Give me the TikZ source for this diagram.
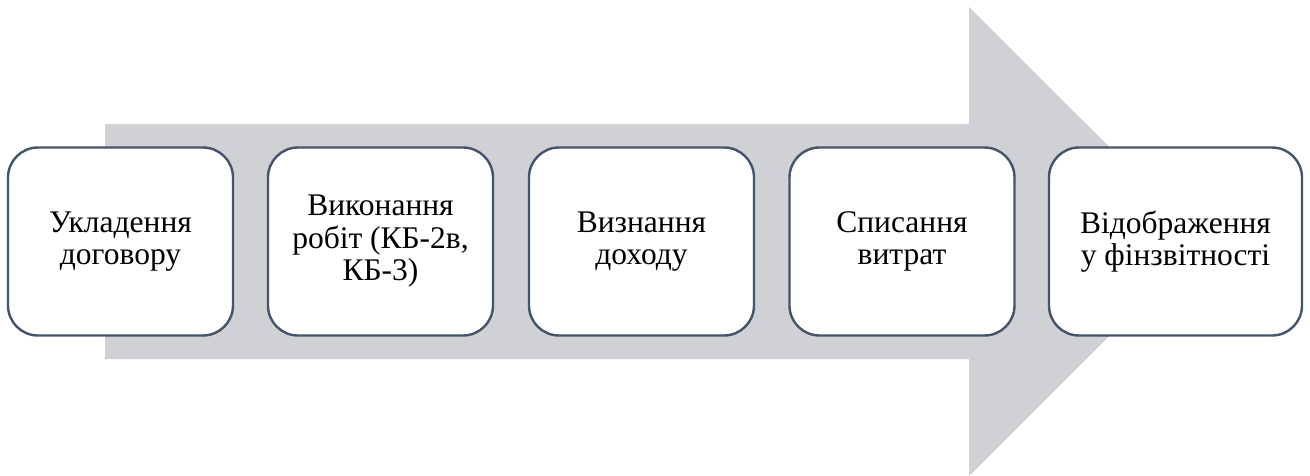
\documentclass[tikz,border=0pt]{standalone}
\usepackage{fontspec}
\setmainfont{Liberation Serif}
\newfontfamily\tnr{Liberation Serif}
\definecolor{arrowgray}{HTML}{D0D1D5}
\definecolor{boxline}{HTML}{44546A}
\begin{document}
\begin{tikzpicture}[x=1pt,y=-1pt,
  stepbox/.style={draw=boxline, line width=2.4pt, fill=white, rounded corners=30pt,
    minimum width=225pt, minimum height=188pt, align=center, inner sep=0pt,
    font=\tnr\fontsize{31.5}{32.5}\selectfont}]
\useasboundingbox (0,0) rectangle (1310,476);
\fill[arrowgray] (105,124) -- (969,124) -- (969,7) -- (1204,241.5) -- (969,476) -- (969,359) -- (105,359) -- cycle;
\node[stepbox] (b1) at (120.5,241.5) {Укладення\\договору};
\node[stepbox] (b2) at (380.5,241.5) {Виконання\\робіт (КБ-2в,\\КБ-3)};
\node[stepbox] (b3) at (641.5,241.5) {Визнання\\доходу};
\node[stepbox] (b4) at (902,241.5) {Списання\\витрат};
\node[stepbox, minimum width=253pt] (b5) at (1175.5,241.5) {Відображення\\у фінзвітності};
\end{tikzpicture}
\end{document}
